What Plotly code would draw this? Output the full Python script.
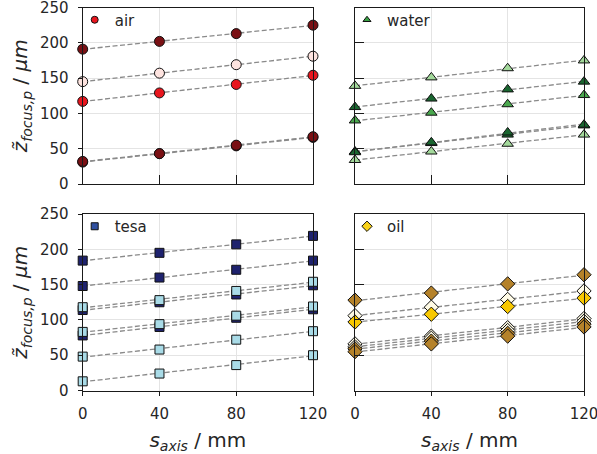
import numpy as np
import plotly.graph_objects as go

# ---------------- data ----------------
s_axis = [0, 40, 80, 120]

air_dark1 = [191, 202, 213, 225]
air_pale = [145, 157, 169, 181]
air_red = [117, 129, 141, 154]
air_dark2 = [31, 43, 54, 66]
air_dark3 = [32, 43, 55, 67]

water_light1 = [139, 151, 164, 175]
water_dark1 = [109, 121, 134, 145]
water_med1 = [90, 101, 113, 126]
water_dark2 = [45, 59, 73, 84]
water_dark3 = [46, 58, 70, 83]
water_light2 = [34, 46, 57, 70]

tesa_navy1 = [184, 195, 207, 219]
tesa_navy2 = [148, 160, 171, 184]
tesa_navy3 = [114, 125, 136, 149]
tesa_light1 = [118, 128, 141, 154]
tesa_navy4 = [78, 90, 103, 115]
tesa_light2 = [83, 94, 106, 119]
tesa_light3 = [48, 58, 72, 84]
tesa_light4 = [13, 24, 36, 50]

oil_brown1 = [128, 138, 151, 164]
oil_cream1 = [106, 118, 129, 141]
oil_gold = [97, 108, 119, 131]
oil_cream2 = [66, 77, 89, 102]
oil_cream3 = [62, 74, 85, 98]
oil_brown2 = [59, 70, 81, 94]
oil_brown3 = [55, 66, 77, 90]

x_ticks = [0, 40, 80, 120]
y_ticks = [0, 50, 100, 150, 200, 250]

# ---------------- styles ----------------
FONT = "DejaVu Sans"
TXT = "#262626"
C_AIR_DARK, C_AIR_PALE, C_AIR_RED = "#7a1014", "#fde3df", "#e8161e"
C_W_LIGHT, C_W_MED, C_W_DARK, C_W_LEG = "#a3d99b", "#4aa84e", "#1a6630", "#38a043"
C_T_NAVY, C_T_LIGHT, C_T_LEG = "#1e226e", "#a9dbe7", "#3050a0"
C_O_BROWN, C_O_CREAM, C_O_GOLD, C_O_LEG = "#b5822a", "#fffbe6", "#f8c800", "#f8d21a"

panels = {
    "air": ("x", "y", "circle", 10, [
        (air_dark1, C_AIR_DARK), (air_pale, C_AIR_PALE), (air_red, C_AIR_RED),
        (air_dark2, C_AIR_DARK), (air_dark3, C_AIR_DARK)], C_AIR_RED, "legend"),
    "water": ("x2", "y2", "triangle-up", 10, [
        (water_light1, C_W_LIGHT), (water_dark1, C_W_DARK), (water_med1, C_W_MED),
        (water_light2, C_W_LIGHT), (water_dark3, C_W_DARK), (water_dark2, C_W_DARK)], C_W_LEG, "legend2"),
    "tesa": ("x3", "y3", "square", 9, [
        (tesa_navy1, C_T_NAVY), (tesa_navy2, C_T_NAVY), (tesa_navy3, C_T_NAVY),
        (tesa_light1, C_T_LIGHT), (tesa_navy4, C_T_NAVY), (tesa_light2, C_T_LIGHT),
        (tesa_light3, C_T_LIGHT), (tesa_light4, C_T_LIGHT)], C_T_LEG, "legend3"),
    "oil": ("x4", "y4", "diamond", 11, [
        (oil_brown1, C_O_BROWN), (oil_cream1, C_O_CREAM), (oil_gold, C_O_GOLD),
        (oil_cream2, C_O_CREAM), (oil_cream3, C_O_CREAM), (oil_brown2, C_O_BROWN),
        (oil_brown3, C_O_BROWN)], C_O_LEG, "legend4"),
}

fig = go.Figure()
xs = np.array(s_axis, dtype=float)
for name, (xa, ya, sym, size, series, legcol, legname) in panels.items():
    # fitted dashed lines first
    for vals, col in series:
        k, d = np.polyfit(xs, np.array(vals, dtype=float), 1)
        fig.add_trace(go.Scatter(x=xs, y=k * xs + d, mode="lines", xaxis=xa, yaxis=ya,
                                 line=dict(color="#8a8a8a", width=1.3, dash="5px,2.5px"),
                                 showlegend=False, hoverinfo="skip"))
    for vals, col in series:
        fig.add_trace(go.Scatter(x=s_axis, y=vals, mode="markers", xaxis=xa, yaxis=ya,
                                 marker=dict(symbol=sym, size=size, color=col,
                                             line=dict(color="#111111", width=1)),
                                 cliponaxis=False, showlegend=False))
    # legend entry
    fig.add_trace(go.Scatter(x=[None], y=[None], mode="markers", xaxis=xa, yaxis=ya,
                             name=name, legend=legname,
                             marker=dict(symbol=sym, size=7 if sym != "diamond" else 8, color=legcol,
                                         line=dict(color="#111111", width=1))))

xL = [82.7 / 597, 313 / 597]
xR = [355 / 597, 584 / 597]
yT = [1 - 184 / 454, 1 - 7.5 / 454]
yB = [1 - 390.5 / 454, 1 - 214 / 454]

tickfont = dict(family=FONT, size=15, color=TXT)
titlefont = dict(family=FONT, size=20, color=TXT)
ytitle = "<i>z̃</i><sub><i>focus,p</i></sub> / <i>μm</i>"
xtitle = "<i>s</i><sub><i>axis</i></sub> / mm"

common = dict(showline=True, linecolor="#1a1a1a", linewidth=1.2, mirror=True,
              showgrid=True, gridcolor="#e4e4e4", gridwidth=1, zeroline=False,
              tickcolor="#1a1a1a", tickwidth=1.2, tickfont=tickfont, tickmode="array",
              automargin=False, ticklabeloverflow="allow")

def xax(domain, anchor, labels, inout):
    d = dict(common, domain=domain, anchor=anchor, range=[0, 120], tickvals=x_ticks)
    if labels:
        d.update(showticklabels=True, ticks="outside", ticklen=4, ticklabelstandoff=5,
                 title=dict(text=xtitle, font=titlefont, standoff=13))
    else:
        d.update(showticklabels=False, ticks="inside", ticklen=9)
    return d

def yax(domain, anchor, labels):
    d = dict(common, domain=domain, anchor=anchor, range=[0, 250], tickvals=y_ticks)
    if labels:
        d.update(showticklabels=True, ticks="outside", ticklen=4, ticklabelstandoff=6,
                 title=dict(text=ytitle, font=titlefont, standoff=6))
    else:
        d.update(showticklabels=False, ticks="inside", ticklen=9)
    return d

def overlay(over, anchor, rng, vals):
    return dict(overlaying=over, anchor=anchor, range=rng, tickmode="array", tickvals=vals,
                ticks="inside", ticklen=5, tickcolor="#1a1a1a", tickwidth=1.2, automargin=False,
                showticklabels=False, showgrid=False, showline=False, zeroline=False)

legend_common = dict(font=dict(family=FONT, size=15, color=TXT), bgcolor="rgba(0,0,0,0)",
                     xanchor="left", yanchor="top", itemwidth=30, borderwidth=0)

fig.update_layout(
    width=597, height=454, margin=dict(l=0, r=0, t=0, b=0, autoexpand=False),
    paper_bgcolor="white", plot_bgcolor="white",
    font=dict(family=FONT, color=TXT),
    xaxis=xax(xL, "y", False, False),
    yaxis=yax(yT, "x", True),
    xaxis2=xax(xR, "y2", False, False),
    yaxis2=yax(yT, "x2", False),
    xaxis3=xax(xL, "y3", True, True),
    yaxis3=yax(yB, "x3", True),
    xaxis4=xax(xR, "y4", True, True),
    yaxis4=yax(yB, "x4", False),
    yaxis5=overlay("y", "x", [0, 250], y_ticks),
    yaxis6=overlay("y3", "x3", [0, 250], y_ticks),
    xaxis5=overlay("x3", "y3", [0, 120], x_ticks),
    xaxis6=overlay("x4", "y4", [0, 120], x_ticks),
    legend=dict(legend_common, x=(82.7 - 8) / 597, y=yT[1] + 4 / 454),
    legend2=dict(legend_common, x=(355 - 8) / 597, y=yT[1] + 4 / 454),
    legend3=dict(legend_common, x=(82.7 - 8) / 597, y=yB[1] + 4 / 454),
    legend4=dict(legend_common, x=(355 - 8) / 597, y=yB[1] + 4 / 454),
    showlegend=True,
)

fig.write_html("out.html")
